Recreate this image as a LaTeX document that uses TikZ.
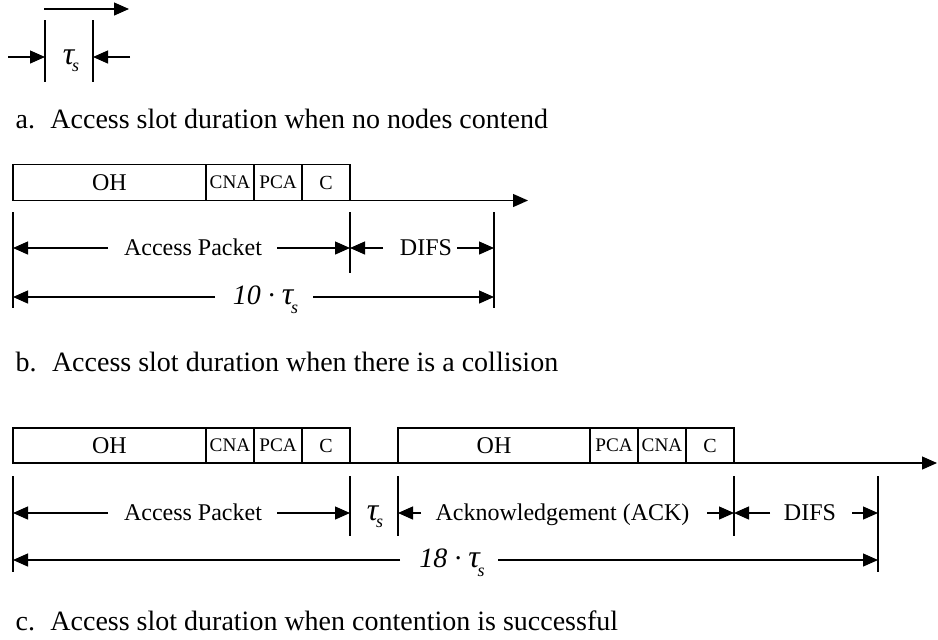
\documentclass[tikz,border=0pt]{standalone}
\usepackage{fontspec}
\setmainfont{Liberation Serif}
\usetikzlibrary{arrows.meta}
\newcommand{\tausym}{{\fontsize{16}{16}\selectfont\textit{τ}}\kern-1.6pt\raisebox{-0.7ex}{\fontsize{9}{9}\selectfont\textit{s}}}
\begin{document}
\begin{tikzpicture}[x=0.5pt,y=-0.5pt, line width=0.6pt,
  fld/.style={draw, minimum height=18pt, inner sep=0pt, outer sep=0pt, font=\fontsize{12}{14}\selectfont},
  sfld/.style={fld, minimum width=24pt, anchor=west, font=\fontsize{9.6}{11}\selectfont},
  arr/.style={-{Triangle[length=7.5pt,width=6.5pt]}},
  lbl/.style={anchor=base, yshift=-3.5pt, inner sep=0pt, font=\fontsize{12}{14}\selectfont},
  biglbl/.style={lbl, font=\fontsize{14}{16}\selectfont},
  captxt/.style={anchor=base west, inner sep=0pt, font=\fontsize{14}{16}\selectfont}]
\useasboundingbox (0,0) rectangle (938,639);

% ---------------- part a ----------------
\coordinate (a0) at (44,9);
\coordinate (a1) at (129,9);
\draw[arr] (a0) -- (a1);
\coordinate (aL1) at (45,20); \coordinate (aL2) at (45,82);
\coordinate (aR1) at (93,20); \coordinate (aR2) at (93,82);
\draw (aL1) -- (aL2);
\draw (aR1) -- (aR2);
\coordinate (aw) at (8,57);
\coordinate (ae) at (130,57);
\draw[arr] (aw) -- (aL1 |- aw);
\draw[arr] (ae) -- (aR1 |- ae);
\node[lbl] (ta) at (71,57) {\tausym};
\node[captxt] (capa) at (15,128) {a.\hspace{0.55em}Access slot duration when no nodes contend};

% ---------------- part b ----------------
\node[fld, minimum width=96.5pt] (bOH) at (109.5,182.5) {OH};
\node[sfld] (bCNA) at (bOH.east) {CNA};
\node[sfld] (bPCA) at (bCNA.east) {PCA};
\node[sfld, font=\fontsize{10}{12}\selectfont] (bC) at (bPCA.east) {C};
\path (bC.south east) ++(178,0) coordinate (bEnd);
\draw[arr] (bC.south east) -- (bEnd);

\coordinate (bt0a) at (13,212);  \coordinate (bt0b) at (13,308);
\coordinate (bt1a) at (350,212); \coordinate (bt1b) at (350,273);
\coordinate (bt2a) at (494,212); \coordinate (bt2b) at (494,308);
\draw (bt0a) -- (bt0b);
\draw (bt1a) -- (bt1b);
\draw (bt2a) -- (bt2b);

\coordinate (bAPl) at (108,248);
\coordinate (bAPr) at (277,248);
\node[lbl] (bAP) at (193,248) {Access Packet};
\draw[arr] (bAPl) -- (bt0a |- bAPl);
\draw[arr] (bAPr) -- (bt1a |- bAPr);
\coordinate (bDl) at (383,248);
\coordinate (bDr) at (457,248);
\node[lbl] (bD) at (426,248) {DIFS};
\draw[arr] (bDl) -- (bt1a |- bDl);
\draw[arr] (bDr) -- (bt2a |- bDr);

\coordinate (bTl) at (215,297);
\coordinate (bTr) at (313,297);
\node[biglbl] (bT) at (265.5,297) {\textit{10 · }\tausym};
\draw[arr] (bTl) -- (bt0a |- bTl);
\draw[arr] (bTr) -- (bt2a |- bTr);

\node[captxt] (capb) at (15,371) {b.\hspace{0.55em}Access slot duration when there is a collision};

% ---------------- part c ----------------
\node[fld, minimum width=96.5pt, minimum height=17.5pt] (cOH) at (109.5,445.5) {OH};
\node[sfld, minimum height=17.5pt] (cCNA) at (cOH.east) {CNA};
\node[sfld, minimum height=17.5pt] (cPCA) at (cCNA.east) {PCA};
\node[sfld, minimum height=17.5pt, font=\fontsize{10}{12}\selectfont] (cC) at (cPCA.east) {C};
\node[fld, minimum width=96pt, minimum height=17.5pt] (cOH2) at (494,445.5) {OH};
\node[sfld, minimum height=17.5pt] (cPCA2) at (cOH2.east) {PCA};
\node[sfld, minimum height=17.5pt] (cCNA2) at (cPCA2.east) {CNA};
\node[sfld, minimum height=17.5pt, font=\fontsize{10}{12}\selectfont] (cC2) at (cCNA2.east) {C};
\draw (cC.south east) -- (cOH2.south west);
\path (cC2.south east) ++(203,0) coordinate (cEnd);
\draw[arr] (cC2.south east) -- (cEnd);

\coordinate (ct0a) at (13,476);  \coordinate (ct0b) at (13,572);
\coordinate (ct1a) at (350,476); \coordinate (ct1b) at (350,536);
\coordinate (ct2a) at (398,476); \coordinate (ct2b) at (398,536);
\coordinate (ct3a) at (734,476); \coordinate (ct3b) at (734,536);
\coordinate (ct4a) at (878,476); \coordinate (ct4b) at (878,572);
\draw (ct0a) -- (ct0b);
\draw (ct1a) -- (ct1b);
\draw (ct2a) -- (ct2b);
\draw (ct3a) -- (ct3b);
\draw (ct4a) -- (ct4b);

\coordinate (cAPl) at (108,513);
\coordinate (cAPr) at (277,513);
\node[lbl] (cAP) at (193,513) {Access Packet};
\draw[arr] (cAPl) -- (ct0a |- cAPl);
\draw[arr] (cAPr) -- (ct1a |- cAPr);
\node[lbl] (cts) at (375,513) {\tausym};
\coordinate (cAKl) at (421,513);
\coordinate (cAKr) at (707,513);
\node[lbl] (cAK) at (562.5,513) {Acknowledgement (ACK)};
\draw[arr] (cAKl) -- (ct2a |- cAKl);
\draw[arr] (cAKr) -- (ct3a |- cAKr);
\coordinate (cDl) at (770,513);
\coordinate (cDr) at (852,513);
\node[lbl] (cD) at (810,513) {DIFS};
\draw[arr] (cDl) -- (ct3a |- cDl);
\draw[arr] (cDr) -- (ct4a |- cDr);

\coordinate (cTl) at (400,560);
\coordinate (cTr) at (498,560);
\node[biglbl] (cT) at (452,560) {\textit{18 · }\tausym};
\draw[arr] (cTl) -- (ct0a |- cTl);
\draw[arr] (cTr) -- (ct4a |- cTr);

\node[captxt] (capc) at (15,630) {c.\hspace{0.55em}Access slot duration when contention is successful};
\end{tikzpicture}
\end{document}
